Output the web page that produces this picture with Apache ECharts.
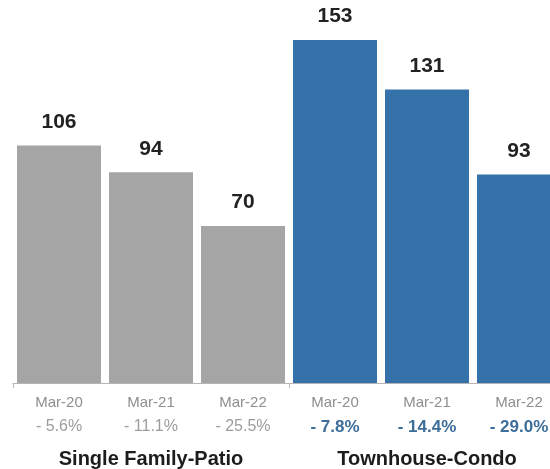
<!DOCTYPE html>
<html>
<head>
<meta charset="utf-8">
<script src="https://cdn.jsdelivr.net/npm/echarts@6/dist/echarts.min.js"></script>
<style>
  html, body { margin: 0; padding: 0; background: #ffffff; }
  #chart { width: 550px; height: 469px; }
</style>
</head>
<body>
<div id="chart"></div>
<script>
// Monthly figures for two housing types, three periods each
const months = ["Mar-20", "Mar-21", "Mar-22", "Mar-20", "Mar-21", "Mar-22"];
const values = [106, 94, 70, 153, 131, 93];
const changes = ["- 5.6%", "- 11.1%", "- 25.5%", "- 7.8%", "- 14.4%", "- 29.0%"];
const groups = ["Single Family-Patio", "Townhouse-Condo"];
const groupOf = [0, 0, 0, 1, 1, 1];

const GRAY = "#a5a5a5";
const BLUE = "#3572aa";
const FONT = "'Liberation Sans', Arial, Helvetica, sans-serif";

const chart = echarts.init(document.getElementById("chart"), null, { renderer: "canvas" });

chart.setOption({
  animation: false,
  backgroundColor: "#ffffff",
  grid: {
    left: 13, width: 552, top: 2, bottom: 86,
    containLabel: false,
    outerBoundsMode: "none"
  },
  xAxis: [
    {
      type: "category",
      data: months.map((m, i) => String(i)),
      boundaryGap: true,
      axisLine: { show: true, lineStyle: { color: "#b5b5b5", width: 1 } },
      axisTick: {
        show: true,
        interval: (i) => i === 0 || i === 3,
        length: 5,
        lineStyle: { color: "#b5b5b5" }
      },
      axisLabel: {
        interval: 0,
        margin: 8,
        fontFamily: FONT,
        formatter: (v) => {
          const idx = Number(v);
          const tag = groupOf[idx] === 0 ? "g" : "b";
          return "{m|" + months[idx] + "}\n{" + tag + "|" + changes[idx] + "}";
        },
        rich: {
          m: { fontFamily: FONT, fontSize: 15, color: "#8e8e8e", lineHeight: 24 },
          g: { fontFamily: FONT, fontSize: 16, color: "#9c9c9c", lineHeight: 24 },
          b: { fontFamily: FONT, fontSize: 17, fontWeight: "bold", color: "#3d6d99", lineHeight: 24 }
        }
      }
    },
    {
      type: "category",
      position: "bottom",
      data: groups,
      boundaryGap: true,
      axisLine: { show: false },
      axisTick: { show: false },
      axisLabel: {
        interval: 0,
        margin: 66,
        fontFamily: FONT,
        fontSize: 20,
        fontWeight: "bold",
        color: "#1c1c1c"
      }
    }
  ],
  yAxis: {
    type: "value",
    min: 0,
    max: 170,
    show: false,
    splitLine: { show: false }
  },
  series: [
    {
      type: "bar",
      xAxisIndex: 0,
      barCategoryGap: "8.7%",
      data: values.map((v, i) => ({
        value: v,
        itemStyle: { color: groupOf[i] === 0 ? GRAY : BLUE }
      })),
      label: {
        show: true,
        position: "top",
        distance: 13,
        fontFamily: FONT,
        fontSize: 21,
        fontWeight: "bold",
        color: "#222222"
      }
    }
  ]
});
</script>
</body>
</html>
